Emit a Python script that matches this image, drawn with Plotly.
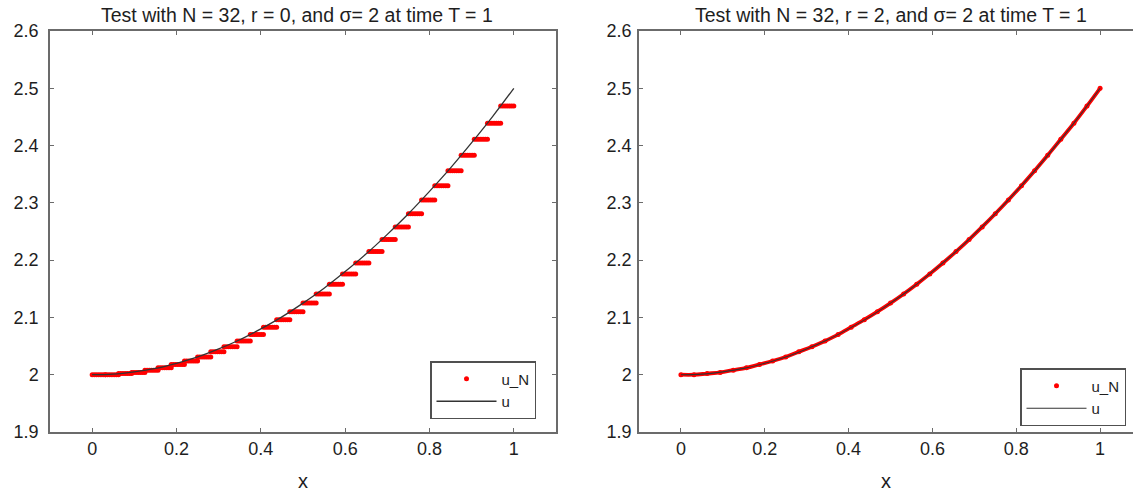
import plotly.graph_objects as go

# ---------------- data ----------------
N = 32
cell_edges = [i / N for i in range(N + 1)]

# left panel: r = 0, one constant value per cell (staircase)
uN_r0 = [2.000, 2.000, 2.002, 2.004, 2.008, 2.012, 2.018, 2.024,
         2.031, 2.040, 2.049, 2.059, 2.070, 2.083, 2.096, 2.110,
         2.125, 2.141, 2.158, 2.176, 2.195, 2.215, 2.236, 2.258,
         2.281, 2.305, 2.330, 2.356, 2.383, 2.411, 2.439, 2.469]

# right panel: r = 2, values at the cell edges
uN_r2 = [2.000, 2.000, 2.002, 2.004, 2.008, 2.012, 2.018, 2.024,
         2.031, 2.040, 2.049, 2.059, 2.070, 2.083, 2.096, 2.110,
         2.125, 2.141, 2.158, 2.176, 2.195, 2.215, 2.236, 2.258,
         2.281, 2.305, 2.330, 2.356, 2.383, 2.411, 2.439, 2.469, 2.500]

# exact solution u
x_exact = [0.00, 0.05, 0.10, 0.15, 0.20, 0.25, 0.30, 0.35, 0.40, 0.45, 0.50,
           0.55, 0.60, 0.65, 0.70, 0.75, 0.80, 0.85, 0.90, 0.95, 1.00]
u_exact = [2.000, 2.001, 2.005, 2.011, 2.020, 2.031, 2.045, 2.061, 2.080, 2.101, 2.125,
           2.151, 2.180, 2.211, 2.245, 2.281, 2.320, 2.361, 2.405, 2.451, 2.500]

# evaluation points inside each cell (fractions of the cell)
sample_fracs = [0.0, 1/6, 2/6, 3/6, 4/6, 5/6, 1.0]

titles = ["Test with N = 32, r = 0, and \u03c3= 2 at time T = 1",
          "Test with N = 32, r = 2, and \u03c3= 2 at time T = 1"]
x_ticks = [0, 0.2, 0.4, 0.6, 0.8, 1]
x_ticklabels = ["0", "0.2", "0.4", "0.6", "0.8", "1"]
y_ticks = [1.9, 2.0, 2.1, 2.2, 2.3, 2.4, 2.5, 2.6]
y_ticklabels = ["1.9", "2", "2.1", "2.2", "2.3", "2.4", "2.5", "2.6"]

# ---------------- figure ----------------
W, H = 1133, 493
FONT = "Liberation Sans"
TXT = "#1e1e1e"
AX = "#6b6b6b"
RED = "#ff0000"

xs_l, ys_l = [], []
for i in range(N):
    a, b = cell_edges[i], cell_edges[i + 1]
    for f in sample_fracs:
        xs_l.append(a + f * (b - a))
        ys_l.append(uN_r0[i])

fig = go.Figure()
# left panel
fig.add_trace(go.Scatter(x=xs_l, y=ys_l, mode="markers", name="u_N",
                         marker=dict(color=RED, size=5, line=dict(width=0)),
                         xaxis="x", yaxis="y", legend="legend"))
fig.add_trace(go.Scatter(x=x_exact, y=u_exact, mode="lines", name="u",
                         line=dict(color="#333333", width=1.3, shape="spline"),
                         xaxis="x", yaxis="y", legend="legend"))
# right panel
fig.add_trace(go.Scatter(x=cell_edges, y=uN_r2, mode="lines", showlegend=False,
                         line=dict(color=RED, width=3.8, shape="spline"),
                         xaxis="x2", yaxis="y2", legendgroup="uN2", hoverinfo="skip"))
fig.add_trace(go.Scatter(x=cell_edges, y=uN_r2, mode="markers", name="u_N",
                         marker=dict(color=RED, size=5, line=dict(width=0)),
                         xaxis="x2", yaxis="y2", legend="legend2", legendgroup="uN2"))
fig.add_trace(go.Scatter(x=x_exact, y=u_exact, mode="lines", name="u",
                         line=dict(color="#333333", width=1.1, shape="spline"),
                         xaxis="x2", yaxis="y2", legend="legend2"))

L1, R1 = 50, 556
L2, R2 = 639, 1133
top, bot = 31, 432

def xaxis(dom, rng, mirror):
    return dict(domain=[dom[0] / W, dom[1] / W], range=rng, tickvals=x_ticks,
                ticktext=x_ticklabels, ticks="inside", ticklen=4, tickcolor=AX,
                tickwidth=1, showline=True, linecolor=AX, linewidth=1.5,
                mirror=mirror, showgrid=False, zeroline=False,
                tickfont=dict(family=FONT, size=18, color=TXT),
                title=dict(text="x", font=dict(family=FONT, size=20, color=TXT),
                           standoff=16))

def yaxis(anchor, mirror, standoff):
    return dict(domain=[0, 1], range=[1.9, 2.6], anchor=anchor, tickvals=y_ticks,
                ticktext=y_ticklabels, ticks="inside", ticklen=4, tickcolor=AX,
                tickwidth=1, showline=True, linecolor=AX, linewidth=1.5,
                mirror=mirror, showgrid=False, zeroline=False,
                ticklabelstandoff=standoff,
                tickfont=dict(family=FONT, size=18, color=TXT))

x2max = 1.0 + 0.1 + (R2 - 1142) / 419.0

legend_common = dict(xanchor="left", yanchor="top", bgcolor="white",
                     bordercolor="#505050", borderwidth=1.5, itemwidth=60,
                     font=dict(family=FONT, size=15, color=TXT), tracegroupgap=0)

fig.update_layout(
    width=W, height=H,
    margin=dict(l=0, r=0, t=top, b=H - bot, pad=0),
    paper_bgcolor="white", plot_bgcolor="white",
    showlegend=True,
    xaxis=xaxis((L1, R1), [-0.1, 1.1], "ticks"),
    yaxis=yaxis("x", "ticks", 6),
    xaxis2=xaxis((L2, R2), [-0.1, x2max], "ticks"),
    yaxis2=yaxis("x2", False, 2),
    legend=dict(x=430 / W, y=(bot - 361) / (bot - top), **legend_common),
    legend2=dict(x=1020 / W, y=(bot - 368) / (bot - top), **legend_common),
    annotations=[
        dict(text=titles[0], xref="paper", yref="paper",
             x=((L1 + R1) / 2 - 6) / W, y=(bot - 15) / (bot - top),
             xanchor="center", yanchor="middle", showarrow=False,
             font=dict(family=FONT, size=19.5, color=TXT)),
        dict(text=titles[1], xref="paper", yref="paper",
             x=((L2 + 1142) / 2) / W, y=(bot - 15) / (bot - top),
             xanchor="center", yanchor="middle", showarrow=False,
             font=dict(family=FONT, size=19.5, color=TXT)),
    ],
)

fig.write_html("out.html")
